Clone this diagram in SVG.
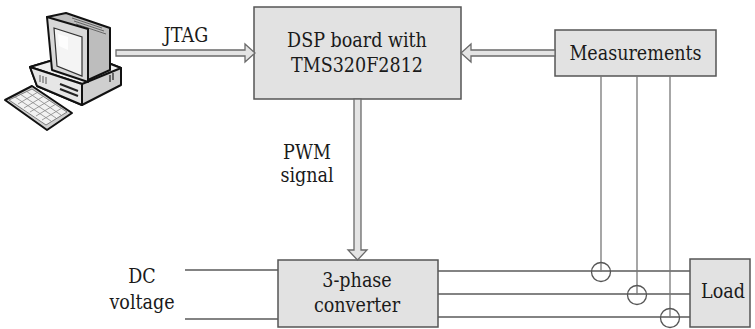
<svg xmlns="http://www.w3.org/2000/svg" width="755" height="329" viewBox="0 0 755 329">
  <style>
    .box { fill: #e2e2e2; stroke: #555; stroke-width: 1.5; }
    .lbl { font-family: "DejaVu Serif", serif; font-stretch: condensed; font-size: 19.5px; fill: #1a1a1a; text-anchor: middle; }
    .wire { stroke: #5a5a5a; stroke-width: 1.3; fill: none; }
    .sense { stroke: #777; stroke-width: 1.3; fill: none; }
    .ct { stroke: #555; stroke-width: 1.3; fill: none; }
    .bus { fill: #e4e4e4; stroke: #6a6a6a; stroke-width: 1.3; stroke-linejoin: miter; }
    .pc { stroke: #111; stroke-width: 2; stroke-linejoin: round; }
  </style>

  <!-- PC workstation -->
  <g id="pc">
    <!-- base unit -->
    <path class="pc" fill="#cfcfcf" d="M30,67 L80,52 L121,68 L121,85 L82,105 L37,86 Z"/>
    <path class="pc" fill="#f0f0f0" d="M30,67 L80,52 L121,68 L82,84 Z" stroke-width="1.5"/>
    <path class="pc" fill="#e6e6e6" d="M37,86 L82,105 L82,84 L30,67 Z" stroke-width="1.5"/>
    <path d="M60,84 L78,91 M60,89 L78,96" stroke="#222" stroke-width="2"/>
    <path d="M40,75 L40,82 M43,76 L43,83 M46,77 L46,84" stroke="#555" stroke-width="1"/>
    <path d="M110,75 L110,82 M113,73 L113,80" stroke="#444" stroke-width="1.5"/>
    <!-- monitor body -->
    <path class="pc" fill="#bdbdbd" d="M47,17 L66,13 L110,28 L110,70 L88,80 Z"/>
    <path d="M72,18 L102,28 M74,21 L104,31 M76,24 L106,34" stroke="#666" stroke-width="1"/>
    <!-- monitor front and screen -->
    <path class="pc" fill="#d8d8d8" d="M47,17 L88,29 L88,82 L52,70 Z"/>
    <path fill="#f4f4f4" stroke="#333" stroke-width="1.2" d="M54,28 L82,37 L82,76 L57,66 Z"/>
    <path fill="#ffffff" d="M58,34 L68,37 L68,50 L59,46 Z" opacity="0.8"/>
    <!-- keyboard -->
    <path class="pc" fill="#d0d0d0" d="M5,100 L32,86 L72,113 L47,130 Z"/>
    <path fill="#f2f2f2" stroke="#666" stroke-width="0.8" d="M9,100 L32,89 L67,112 L46,125 Z"/>
    <path d="M15,97 L51,121 M20,94 L56,118 M26,91 L61,115 M18,104 L38,92 M24,108 L44,96 M30,112 L50,100 M36,116 L56,104 M42,120 L62,108" stroke="#888" stroke-width="0.8"/>
  </g>

  <g id="dsp">
    <rect class="box" x="254" y="7" width="207" height="92"/>
    <text class="lbl" x="357" y="47">DSP board with</text>
    <text class="lbl" x="357" y="72">TMS320F2812</text>
  </g>

  <g id="measurements">
    <rect class="box" x="555" y="30" width="161" height="46"/>
    <text class="lbl" x="635.5" y="60">Measurements</text>
  </g>

  <g id="converter">
    <rect class="box" x="278" y="260" width="160" height="67"/>
    <text class="lbl" x="357" y="287">3-phase</text>
    <text class="lbl" x="357" y="312">converter</text>
  </g>

  <g id="load">
    <rect class="box" x="690" y="259" width="60" height="68"/>
    <text class="lbl" x="723" y="298">Load</text>
  </g>

  <g id="dc-source">
    <text class="lbl" x="142" y="283">DC</text>
    <text class="lbl" x="142" y="309">voltage</text>
  </g>

  <g id="connectors">
    <!-- JTAG link -->
    <polygon class="bus" points="116,50 245,50 245,44 255,53 245,62 245,56 116,56"/>
    <text class="lbl" x="186" y="42">JTAG</text>
    <!-- feedback from measurements -->
    <polygon class="bus" points="555,50 471,50 471,44 461,53 471,62 471,56 555,56"/>
    <!-- PWM signal -->
    <polygon class="bus" points="354,99 354,250 348,250 357.5,260 367,250 361,250 361,99"/>
    <text class="lbl" x="307" y="159">PWM</text>
    <text class="lbl" x="307" y="182">signal</text>
    <!-- DC input -->
    <line class="wire" x1="185" y1="270" x2="278" y2="270"/>
    <line class="wire" x1="185" y1="319" x2="278" y2="319"/>
    <!-- three phases -->
    <line class="wire" x1="438" y1="271" x2="690" y2="271"/>
    <line class="wire" x1="438" y1="294" x2="690" y2="294"/>
    <line class="wire" x1="438" y1="317" x2="690" y2="317"/>
    <!-- sensing lines and current sensors -->
    <line class="sense" x1="601" y1="76" x2="601" y2="272"/>
    <line class="sense" x1="637" y1="76" x2="637" y2="295"/>
    <line class="sense" x1="670" y1="76" x2="670" y2="318"/>
    <circle class="ct" cx="601" cy="272" r="9.5"/>
    <circle class="ct" cx="637" cy="295" r="9.5"/>
    <circle class="ct" cx="670" cy="318" r="9.5"/>
  </g>
</svg>
